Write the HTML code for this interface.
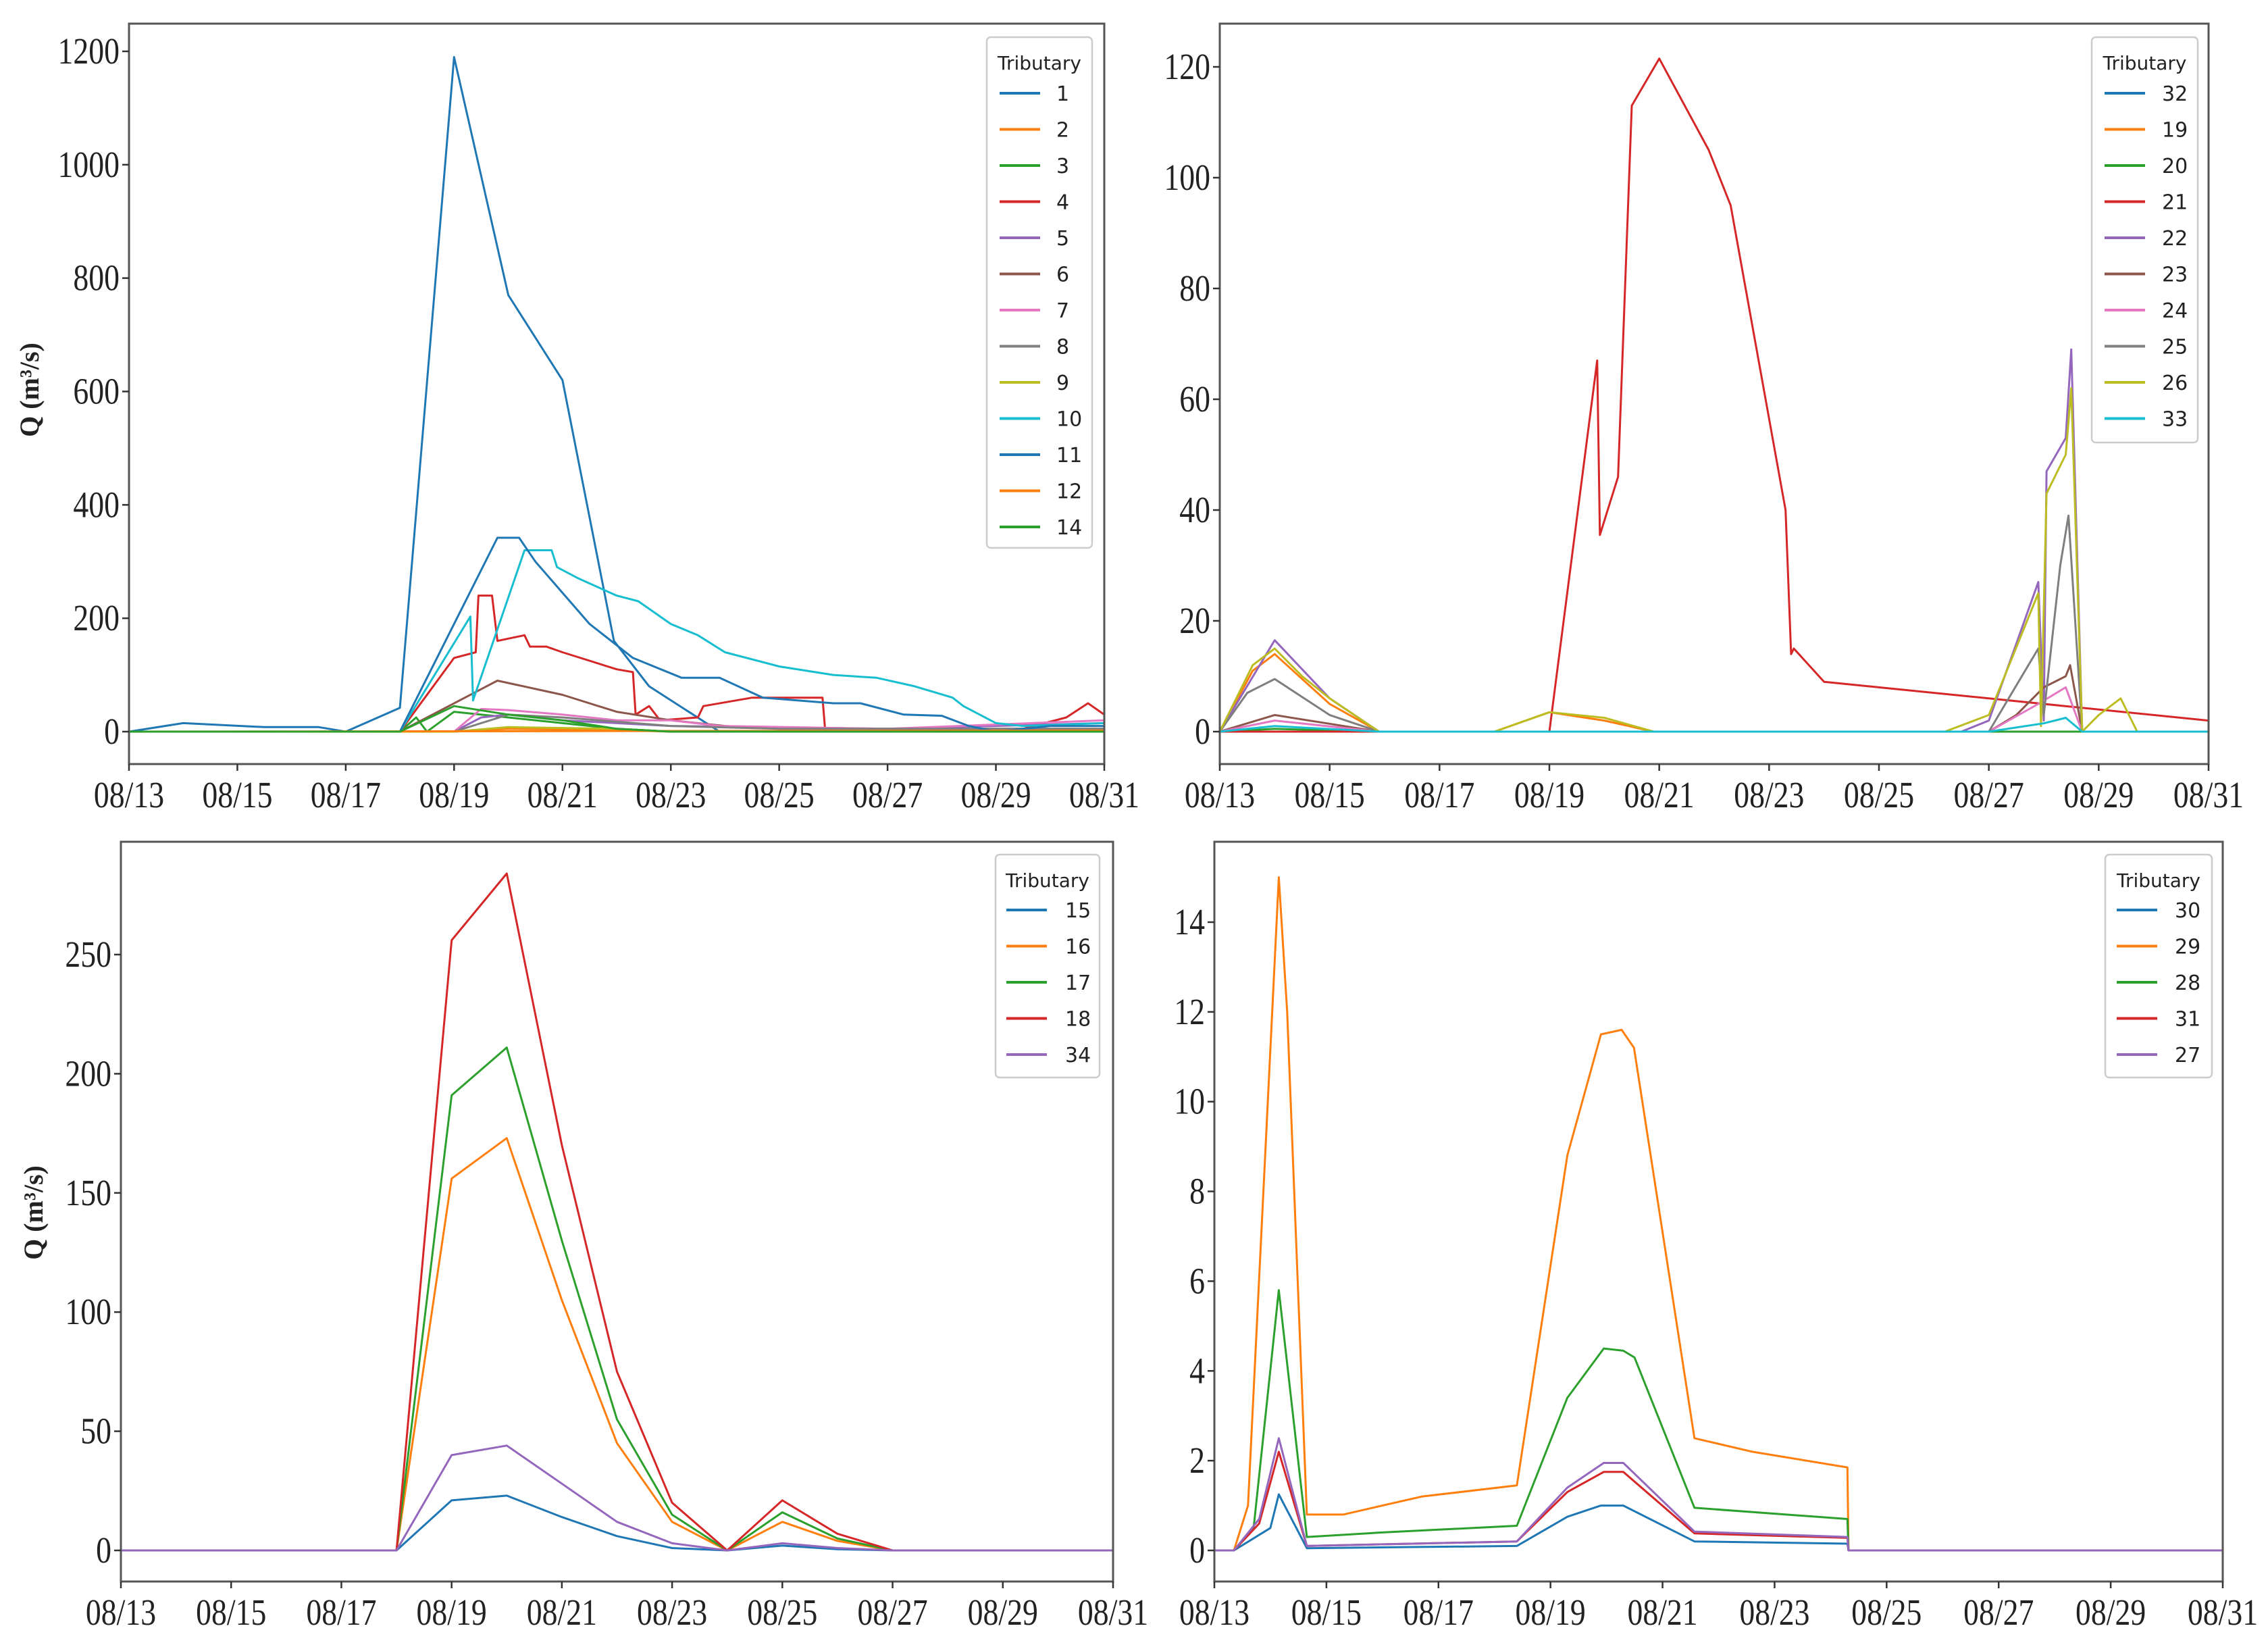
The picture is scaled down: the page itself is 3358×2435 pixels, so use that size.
<!DOCTYPE html>
<html><head><meta charset="utf-8"><style>
html,body{margin:0;padding:0;background:#fff}
svg{display:block}
</style></head><body>
<svg id="fig" width="3358" height="2435" xmlns="http://www.w3.org/2000/svg"></svg>
<script>
const tickDates = ["08/13","08/15","08/17","08/19","08/21","08/23","08/25","08/27","08/29","08/31"];
const colors = {blue:"#1f77b4",orange:"#ff7f0e",green:"#2ca02c",red:"#d62728",purple:"#9467bd",brown:"#8c564b",pink:"#e377c2",gray:"#7f7f7f",olive:"#bcbd22",cyan:"#17becf"};

// Panel 1 (days since 08/13, Q)
const p1Names = ["1","2","3","4","5","6","7","8","9","10","11","12","14"];
const p1Colors = ["blue","orange","green","red","purple","brown","pink","gray","olive","cyan","blue","orange","green"];
const p1_s1 = [[0,0],[1,15],[2.5,8],[3.5,8],[4,0],[5,42],[6,1190],[7,770],[8,620],[8.95,160],[9.6,80],[10.9,0],[18,0]];
const p1_s2 = [[0,0],[6,0],[7,5],[9,3],[10,0],[18,0]];
const p1_s3 = [[0,0],[5,0],[5.3,25],[5.5,0],[6,35],[7,25],[8,15],[9,5],[10,0],[18,0]];
const p1_s4 = [[0,0],[5,0],[6,130],[6.4,140],[6.45,240],[6.7,240],[6.8,160],[7.3,170],[7.4,150],[7.7,150],[8,140],[9,110],[9.3,105],[9.35,30],[9.6,45],[9.8,20],[10.5,25],[10.6,45],[11.5,60],[12.8,60],[12.85,0],[16.5,5],[17.3,25],[17.7,50],[18,30]];
const p1_s5 = [[0,0],[6,0],[6.5,25],[7,30],[8,20],[10,10],[14,5],[18,15]];
const p1_s6 = [[0,0],[5,0],[6.4,70],[6.8,90],[8,65],[9,35],[10,20],[11,10],[12,5],[18,5]];
const p1_s7 = [[0,0],[6,0],[6.5,40],[7,38],[8,30],[9,20],[10,20],[10.9,10],[14,5],[18,20]];
const p1_s8 = [[0,0],[6,0],[7,30],[8,25],[10,10],[12,5],[18,5]];
const p1_s9 = [[0,0],[6,0],[7,8],[9,5],[10,0],[18,0]];
const p1_s10 = [[0,0],[5,0],[6.3,203],[6.35,55],[7.3,320],[7.8,320],[7.9,290],[8.3,270],[9,240],[9.4,230],[10,190],[10.5,170],[11,140],[12,115],[13,100],[13.8,95],[14.5,80],[15.2,60],[15.4,45],[16,15],[16.5,10],[18,15]];
const p1_s11 = [[0,0],[5,0],[6.8,342],[7.2,342],[7.5,300],[8.5,190],[9.3,130],[10.2,95],[10.9,95],[11.7,60],[13,50],[13.5,50],[14.3,30],[15,28],[15.5,10],[16,0],[17,10],[18,10]];
const p1_s12 = [[0,0],[18,2]];
const p1_s14 = [[0,0],[5,0],[6,45],[7,30],[8,20],[9,5],[10,0],[18,0]];

// Panel 2
const p2Names = ["32","19","20","21","22","23","24","25","26","33"];
const p2Colors = ["blue","orange","green","red","purple","brown","pink","gray","olive","cyan"];
const p2_s32 = [[0,0],[18,0]];
const p2_s19 = [[0,0],[0.6,11],[1,14],[2,5],[2.9,0],[5,0],[6,3.5],[7,2],[7.9,0],[18,0]];
const p2_s20 = [[0,0],[1,0.5],[2.9,0],[18,0]];
const p2_s21 = [[0,0],[6,0],[6.87,67],[6.92,35.5],[7.25,46],[7.5,113],[8,121.5],[8.9,105],[9.3,95],[10.3,40],[10.4,14],[10.45,15],[11,9],[18,2]];
const p2_s22 = [[0,0],[1,16.5],[2,6],[2.9,0],[13.5,0],[14,2],[14.9,27],[15,2],[15.05,47],[15.4,53],[15.5,69],[15.7,0],[18,0]];
const p2_s23 = [[0,0],[1,3],[2.9,0],[14,0],[14.5,3],[15,8],[15.4,10],[15.48,12],[15.7,0],[18,0]];
const p2_s24 = [[0,0],[1,2],[2.9,0],[14,0],[14.9,5],[15.4,8],[15.7,0],[18,0]];
const p2_s25 = [[0,0],[0.5,7],[1,9.5],[2,3],[2.9,0],[14,0],[14.9,15],[15,3],[15.3,30],[15.45,39],[15.7,0],[18,0]];
const p2_s26 = [[0,0],[0.6,12],[1,15],[1.5,10],[2,6],[2.9,0],[5,0],[6,3.5],[7,2.5],[7.9,0],[13.2,0],[14,3],[14.9,25],[14.95,1],[15.05,43],[15.4,50],[15.5,62],[15.7,0],[16,3],[16.4,6],[16.7,0],[18,0]];
const p2_s33 = [[0,0],[1,1],[2.9,0],[14,0],[15,1.5],[15.4,2.5],[15.7,0],[18,0]];

// Panel 3
const p3Names = ["15","16","17","18","34"];
const p3Colors = ["blue","orange","green","red","purple"];
const p3_s15 = [[0,0],[5,0],[6,21],[7,23],[8,14],[9,6],[10,1],[11,0],[12,2],[13,0.5],[14,0],[18,0]];
const p3_s16 = [[0,0],[5,0],[6,156],[7,173],[8,105],[9,45],[10,12],[11,0],[12,12],[13,4],[14,0],[18,0]];
const p3_s17 = [[0,0],[5,0],[6,191],[7,211],[8,130],[9,55],[10,15],[11,0],[12,16],[13,5],[14,0],[18,0]];
const p3_s18 = [[0,0],[5,0],[6,256],[7,284],[8,170],[9,75],[10,20],[11,0],[12,21],[13,7],[14,0],[18,0]];
const p3_s34 = [[0,0],[5,0],[6,40],[7,44],[8,28],[9,12],[10,3],[11,0],[12,3],[13,1],[14,0],[18,0]];

// Panel 4
const p4Names = ["30","29","28","31","27"];
const p4Colors = ["blue","orange","green","red","purple"];
const p4_s30 = [[0,0],[0.35,0],[1,0.5],[1.15,1.25],[1.65,0.05],[5.4,0.1],[6.3,0.75],[6.9,1],[7.3,1],[8.57,0.2],[11.3,0.15],[11.32,0],[18,0]];
const p4_s29 = [[0,0],[0.35,0],[0.6,1],[1.15,15],[1.3,12],[1.65,0.8],[2.3,0.8],[3,1],[3.7,1.2],[5.4,1.45],[6.3,8.8],[6.9,11.5],[7.27,11.6],[7.49,11.2],[8.57,2.5],[9.6,2.2],[11.3,1.85],[11.32,0],[18,0]];
const p4_s28 = [[0,0],[0.35,0],[0.7,0.5],[1.15,5.8],[1.65,0.3],[3,0.4],[5.4,0.55],[6.3,3.4],[6.95,4.5],[7.3,4.45],[7.5,4.3],[8.57,0.95],[11.3,0.7],[11.32,0],[18,0]];
const p4_s31 = [[0,0],[0.35,0],[0.8,0.6],[1.15,2.2],[1.65,0.1],[5.4,0.2],[6.3,1.3],[6.95,1.75],[7.3,1.75],[8.57,0.38],[11.3,0.28],[11.32,0],[18,0]];
const p4_s27 = [[0,0],[0.35,0],[0.8,0.7],[1.15,2.5],[1.65,0.1],[5.4,0.2],[6.3,1.4],[6.95,1.95],[7.3,1.95],[8.57,0.42],[11.3,0.3],[11.32,0],[18,0]];

const panels = [
 {id:"top-left", L:191,R:1635,T:35,B:1131, yv0:1083, yvTop:76, vTop:1200, yticks:[0,200,400,600,800,1000,1200], ylabel:true, lbl:[1461,55,1617,811,1480,1564,138], names:p1Names, cols:p1Colors,
  series:[p1_s1,p1_s2,p1_s3,p1_s4,p1_s5,p1_s6,p1_s7,p1_s8,p1_s9,p1_s10,p1_s11,p1_s12,p1_s14], ylabY:577, ylabX:43},
 {id:"top-right", L:1806,R:3270,T:35,B:1131, yv0:1083, yvTop:99, vTop:120, yticks:[0,20,40,60,80,100,120], ylabel:false, lbl:[3097,55,3254,655,3116,3201,138], names:p2Names, cols:p2Colors,
  series:[p2_s32,p2_s19,p2_s20,p2_s21,p2_s22,p2_s23,p2_s24,p2_s25,p2_s26,p2_s33]},
 {id:"bottom-left", L:179,R:1648,T:1246,B:2341, yv0:2295, yvTop:1413, vTop:250, yticks:[0,50,100,150,200,250], ylabel:true, lbl:[1474,1265,1628,1595,1490,1577,1347], names:p3Names, cols:p3Colors,
  series:[p3_s15,p3_s16,p3_s17,p3_s18,p3_s34], ylabY:1795, ylabX:49},
 {id:"bottom-right", L:1798,R:3291,T:1246,B:2341, yv0:2295, yvTop:1365, vTop:14, yticks:[0,2,4,6,8,10,12,14], ylabel:false, lbl:[3117,1265,3275,1595,3134,3220,1347], names:p4Names, cols:p4Colors,
  series:[p4_s30,p4_s29,p4_s28,p4_s31,p4_s27]}
];

const NS="http://www.w3.org/2000/svg";
const svg=document.getElementById("fig");
function mk(tag,attrs,parent){const e=document.createElementNS(NS,tag);for(const k in attrs)e.setAttribute(k,attrs[k]);(parent||svg).appendChild(e);return e;}

panels.forEach(p=>{
  const g=mk("g",{});
  
  
  const xs=d=>p.L+(p.R-p.L)*d/18;
  const ys=v=>p.yv0-(p.yv0-p.yvTop)*v/p.vTop;
  const cid="clip-"+p.id;
  const cp=mk("clipPath",{id:cid},g);
  mk("rect",{x:p.L,y:p.T,width:p.R-p.L,height:p.B-p.T},cp);
  const sg=mk("g",{"clip-path":"url(#"+cid+")"},g);
  p.series.forEach((s,i)=>{
    const pl=mk("polyline",{points:s.map(q=>xs(q[0]).toFixed(1)+","+ys(q[1]).toFixed(1)).join(" "),fill:"none",stroke:colors[p.cols[i]],"stroke-width":3,"stroke-linejoin":"round"},sg);
    
    
  });
  const fr=mk("rect",{x:p.L,y:p.T,width:p.R-p.L,height:p.B-p.T,fill:"none",stroke:"#555","stroke-width":3},g);
  
  
  tickDates.forEach((t,i)=>{
    const x=xs(i*2);
    mk("line",{x1:x,x2:x,y1:p.B,y2:p.B+10,stroke:"#333","stroke-width":2.5},g);
    const tx=mk("text",{transform:"translate("+x+","+(p.B+64)+") scale(0.88,1.05)","text-anchor":"middle","font-family":"Liberation Serif, serif","font-size":52,fill:"#222"},g);
    tx.textContent=t;
    
    
  });
  p.yticks.forEach(v=>{
    const y=ys(v);
    mk("line",{x1:p.L-10,x2:p.L,y1:y,y2:y,stroke:"#333","stroke-width":2.5},g);
    const tx=mk("text",{transform:"translate("+(p.L-14)+","+(y+18)+") scale(0.88,1.05)","text-anchor":"end","font-family":"Liberation Serif, serif","font-size":52,fill:"#222"},g);
    tx.textContent=v;
    
    
  });
  if(p.ylabel){
    const yl=mk("text",{x:0,y:0,transform:"translate("+(p.ylabX+14)+","+p.ylabY+") rotate(-90)","text-anchor":"middle","font-family":"Liberation Serif, serif","font-size":40,"font-weight":"bold",fill:"#222"},g);
    yl.textContent="Q (m³/s)";
    
    
  }
  const [bx0,by0,bx1,by1,hx,lx,ry]=p.lbl;
  const lg=mk("g",{},g);
  
  
  mk("rect",{x:bx0,y:by0,width:bx1-bx0,height:by1-by0,rx:6,fill:"#fff","fill-opacity":0.85,stroke:"#ccc","stroke-width":2.5},lg);
  const tt=mk("text",{x:(bx0+bx1)/2,y:by0+48,"text-anchor":"middle","font-family":"DejaVu Sans, sans-serif","font-size":28,fill:"#222"},lg);
  tt.textContent="Tributary";
  
  
  p.names.forEach((n,i)=>{
    const y=ry+i*53.5;
    const en=mk("g",{},lg);
    
    
    mk("line",{x1:hx,x2:hx+60,y1:y,y2:y,stroke:colors[p.cols[i]],"stroke-width":4},en);
    const t=mk("text",{x:lx,y:y+11,"font-family":"DejaVu Sans, sans-serif","font-size":30,fill:"#222"},en);
    t.textContent=n;
  });
});
</script>
</body></html>
